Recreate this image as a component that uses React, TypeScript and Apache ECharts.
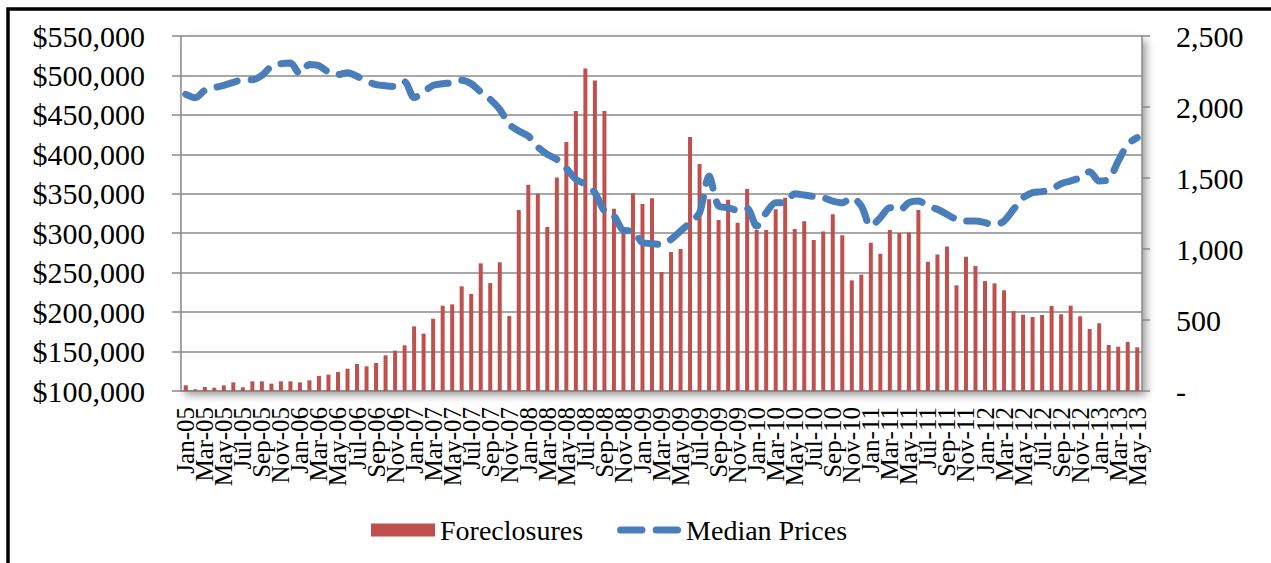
import React, { useEffect, useRef } from "react";
import * as echarts from "echarts";

const categories: string[] = [
  "Jan-05","Feb-05","Mar-05","Apr-05","May-05","Jun-05","Jul-05","Aug-05","Sep-05","Oct-05","Nov-05","Dec-05",
  "Jan-06","Feb-06","Mar-06","Apr-06","May-06","Jun-06","Jul-06","Aug-06","Sep-06","Oct-06","Nov-06","Dec-06",
  "Jan-07","Feb-07","Mar-07","Apr-07","May-07","Jun-07","Jul-07","Aug-07","Sep-07","Oct-07","Nov-07","Dec-07",
  "Jan-08","Feb-08","Mar-08","Apr-08","May-08","Jun-08","Jul-08","Aug-08","Sep-08","Oct-08","Nov-08","Dec-08",
  "Jan-09","Feb-09","Mar-09","Apr-09","May-09","Jun-09","Jul-09","Aug-09","Sep-09","Oct-09","Nov-09","Dec-09",
  "Jan-10","Feb-10","Mar-10","Apr-10","May-10","Jun-10","Jul-10","Aug-10","Sep-10","Oct-10","Nov-10","Dec-10",
  "Jan-11","Feb-11","Mar-11","Apr-11","May-11","Jun-11","Jul-11","Aug-11","Sep-11","Oct-11","Nov-11","Dec-11",
  "Jan-12","Feb-12","Mar-12","Apr-12","May-12","Jun-12","Jul-12","Aug-12","Sep-12","Oct-12","Nov-12","Dec-12",
  "Jan-13","Feb-13","Mar-13","Apr-13","May-13",
];

const foreclosures: number[] = [
  40, 12, 28, 23, 40, 61, 26, 68, 68, 52, 68, 68,
  61, 75, 106, 115, 134, 157, 190, 174, 197, 251, 284, 322,
  455, 404, 509, 601, 610, 737, 683, 899, 760, 906, 528, 1274,
  1453, 1389, 1155, 1504, 1753, 1971, 2272, 2187, 1971, 1284, 1120, 1392,
  1317, 1357, 838, 979, 1000, 1788, 1598, 1350, 1204, 1347, 1185, 1422,
  1134, 1134, 1280, 1361, 1141, 1195, 1063, 1124, 1244, 1096, 779, 819,
  1044, 967, 1134, 1112, 1117, 1274, 911, 962, 1018, 744, 946, 880,
  774, 758, 709, 563, 537, 521, 535, 599, 540, 601, 526, 437,
  477, 324, 312, 345, 308,
];

const medianPrices: number[] = [
  476000, 471800, 481000, 484500, 487400, 491200, 494600, 494600, 500000, 511500, 514900, 515700,
  502200, 514000, 512400, 504300, 501000, 503500, 498900, 493000, 488300, 486900, 486000, 492000,
  472000, 479000, 487400, 489500, 490700, 493800, 489500, 479000, 469700, 457000, 438000, 429500,
  423200, 409300, 400000, 393600, 382200, 368300, 362000, 351400, 328200, 321800, 303600, 302800,
  288000, 286700, 285900, 292200, 302800, 313400, 326000, 372500, 334500, 332400, 329000, 331500,
  309100, 326000, 338700, 338700, 350100, 348400, 346500, 345000, 340800, 338700, 345000, 334500,
  309100, 319700, 332400, 329000, 338700, 340800, 334500, 330300, 323900, 317600, 315500, 315500,
  313400, 310400, 315500, 330300, 345000, 351400, 352700, 355600, 362800, 366200, 370400, 378000,
  366200, 368300, 391500, 412700, 421100,
];

const seriesNames: string[] = ["Foreclosures", "Median Prices"];

const FONT = "'Times New Roman', 'Liberation Serif', serif";
const GRID_COLOR = "#8a8a8a";
const BAR_COLOR = "#c0504d";
const LINE_COLOR = "#4a7ebb";
const DASH_ICON =
  "path://M3,0 H21 A3,3 0 0 1 21,6 H3 A3,3 0 0 1 3,0 Z M33,0 H51 A3,3 0 0 1 51,6 H33 A3,3 0 0 1 33,0 Z";

export default function App() {
  const ref = useRef<HTMLDivElement>(null);

  useEffect(() => {
    if (!ref.current) return;
    const chart = echarts.init(ref.current, undefined, { renderer: "svg" });
    chart.setOption({
      animation: false,
      backgroundColor: "#ffffff",
      graphic: [
        {
          type: "rect",
          shape: { x: 8, y: 9, width: 1400, height: 700 },
          style: { fill: "none", stroke: "#000000", lineWidth: 3.5 },
          silent: true,
          z: 100,
        },
      ],
      legend: {
        left: 366,
        top: 511,
        itemWidth: 64,
        itemHeight: 13,
        itemGap: 34,
        textStyle: { fontFamily: FONT, fontSize: 28, color: "#000" },
        data: [
          { name: seriesNames[0], icon: "rect", itemStyle: { color: BAR_COLOR } },
          { name: seriesNames[1], icon: DASH_ICON, itemStyle: { color: LINE_COLOR } },
        ],
      },
      grid: {
        left: 181,
        right: 129,
        top: 36,
        bottom: 172,
        show: true,
        backgroundColor: "#ffffff",
        borderWidth: 0,
        shadowColor: "rgba(0,0,0,0.4)",
        shadowBlur: 8,
        shadowOffsetX: 4,
        shadowOffsetY: 4,
      },
      xAxis: {
        type: "category",
        data: categories,
        boundaryGap: true,
        axisLine: { lineStyle: { color: GRID_COLOR, width: 1.5 } },
        axisTick: { interval: 1, length: 6, lineStyle: { color: GRID_COLOR, width: 1.5 } },
        axisLabel: {
          interval: 0,
          rotate: 90,
          margin: 16,
          showMinLabel: true,
          showMaxLabel: true,
          hideOverlap: false,
          fontFamily: FONT,
          fontSize: 25,
          lineHeight: 15,
          color: "#000",
          formatter: (v: string, i: number) => (i % 2 === 0 ? v : ""),
        },
      },
      yAxis: [
        {
          type: "value",
          min: 100000,
          max: 550000,
          interval: 50000,
          position: "left",
          axisLine: { show: true, lineStyle: { color: GRID_COLOR, width: 1.5 } },
          axisTick: { show: true, length: 9, lineStyle: { color: GRID_COLOR, width: 1.5 } },
          splitLine: { show: true, lineStyle: { color: GRID_COLOR, width: 1.5 } },
          axisLabel: {
            margin: 36,
            fontFamily: FONT,
            fontSize: 30,
            color: "#000",
            formatter: (v: number) => "$" + v.toLocaleString("en-US"),
          },
        },
        {
          type: "value",
          min: 0,
          max: 2500,
          interval: 500,
          position: "right",
          axisLine: { show: true, lineStyle: { color: GRID_COLOR, width: 1.5 } },
          axisTick: { show: true, length: 8, lineStyle: { color: GRID_COLOR, width: 1.5 } },
          splitLine: { show: false },
          axisLabel: {
            margin: 34,
            fontFamily: FONT,
            fontSize: 30,
            color: "#000",
            formatter: (v: number) => (v === 0 ? "-" : v.toLocaleString("en-US")),
          },
        },
      ],
      series: [
        {
          name: seriesNames[0],
          type: "bar",
          yAxisIndex: 1,
          data: foreclosures,
          barWidth: 4,
          itemStyle: { color: BAR_COLOR },
          z: 2,
        },
        {
          name: seriesNames[1],
          type: "line",
          yAxisIndex: 0,
          data: medianPrices,
          smooth: 0.3,
          symbol: "none",
          showSymbol: false,
          itemStyle: { color: LINE_COLOR },
          lineStyle: {
            color: LINE_COLOR,
            width: 7,
            type: [21, 14],
            cap: "round",
            join: "round",
          },
          z: 3,
        },
      ],
    });
    return () => chart.dispose();
  }, []);

  return (
    <div
      ref={ref}
      style={{ position: "absolute", left: 0, top: 0, width: 1271, height: 563, background: "#fff" }}
    />
  );
}
